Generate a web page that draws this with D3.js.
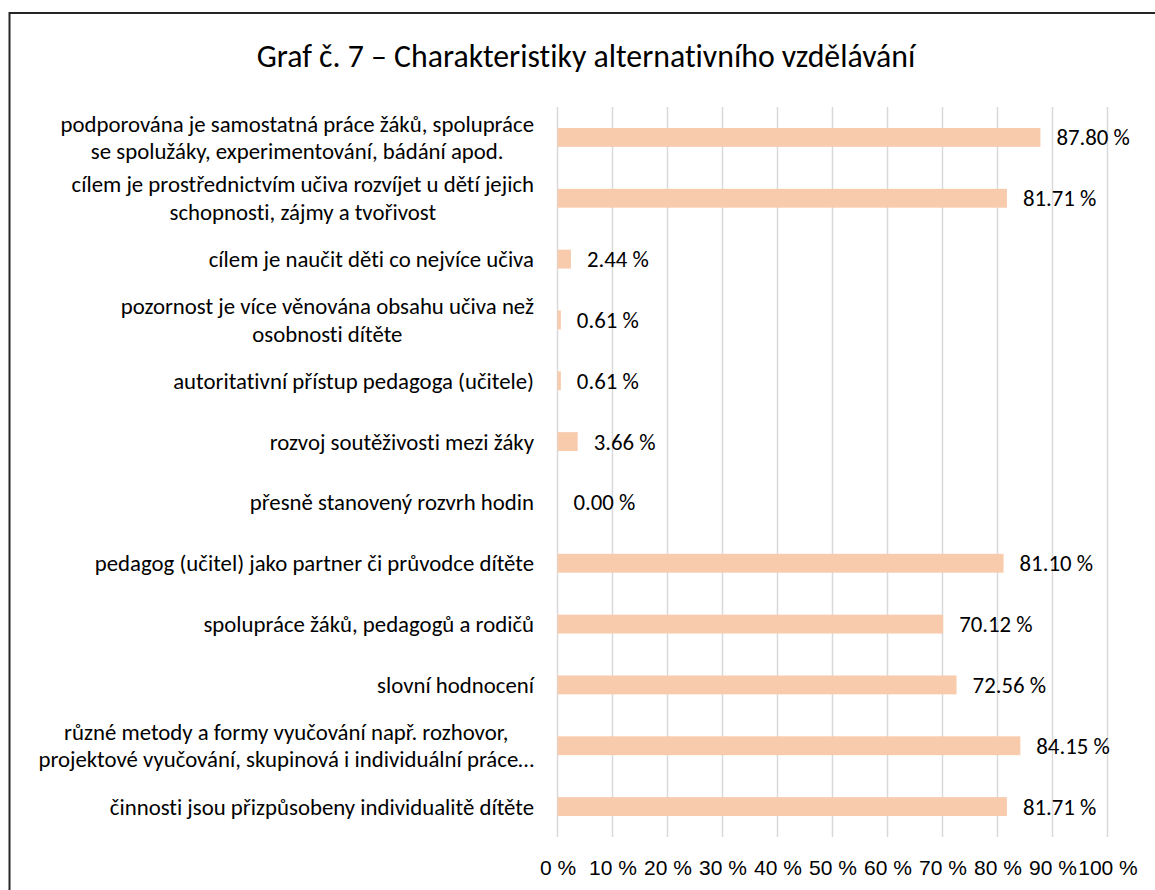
<!DOCTYPE html>
<html>
<head>
<meta charset="utf-8">
<script src="https://cdn.jsdelivr.net/npm/d3@7"></script>
<style>
    body { margin: 0; background: #fff; }
    svg { display: block; font-family: Carlito, Calibri, Lato, sans-serif; font-variant-ligatures: none; }
</style>
</head>
<body>
<div id="chart-container"></div>
<script>
// categories, top to bottom (line breaks as in the original chart)
let categories = [
    ["podporována je samostatná práce žáků, spolupráce", "se spolužáky, experimentování, bádání apod."],
    ["cílem je prostřednictvím učiva rozvíjet u dětí jejich", "schopnosti, zájmy a tvořivost"],
    ["cílem je naučit děti co nejvíce učiva"],
    ["pozornost je více věnována obsahu učiva než", "osobnosti dítěte"],
    ["autoritativní přístup pedagoga (učitele)"],
    ["rozvoj soutěživosti mezi žáky"],
    ["přesně stanovený rozvrh hodin"],
    ["pedagog (učitel) jako partner či průvodce dítěte"],
    ["spolupráce žáků, pedagogů a rodičů"],
    ["slovní hodnocení"],
    ["různé metody a formy vyučování např. rozhovor,", "projektové vyučování, skupinová i individuální práce…"],
    ["činnosti jsou přizpůsobeny individualitě dítěte"]
];

let values = [87.80, 81.71, 2.44, 0.61, 0.61, 3.66, 0.00, 81.10, 70.12, 72.56, 84.15, 81.71];

let xTicks = [0, 10, 20, 30, 40, 50, 60, 70, 80, 90, 100];

let title = "Graf č. 7 – Charakteristiky alternativního vzdělávání";


let width = 1155,
    height = 890;

let fontSize = 22.8,
    tickFontSize = 21,
    lineHeight = 27.5,
    labelRight = 534;

let svg = d3.select("#chart-container")
    .append("svg")
    .attr("width", width)
    .attr("height", height);

svg.append("rect")
    .attr("width", width)
    .attr("height", height)
    .attr("fill", "#fff");

// outer frame (cut off at right and bottom, as in the picture)
svg.append("rect")
    .attr("x", 9.5)
    .attr("y", 13)
    .attr("width", 1300)
    .attr("height", 1000)
    .attr("fill", "none")
    .attr("stroke", "#262626")
    .attr("stroke-width", 2);

svg.append("text")
    .attr("x", 586)
    .attr("y", 67)
    .attr("text-anchor", "middle")
    .attr("font-size", 31.8)
    .attr("fill", "#000")
    .text(title);

let data = categories.map((c, i) => ({id: i, lines: c, value: values[i]}));

let x = d3.scaleLinear()
    .domain([0, 100])
    .range([557.5, 1107.5]);

let y = d3.scaleBand()
    .domain(data.map((d) => d.id))
    .range([107, 837])
    .paddingInner(0.69)
    .paddingOuter(0.345);

// vertical gridlines
svg.append("g")
    .attr("class", "grid")
    .selectAll("line")
    .data(xTicks)
    .enter().append("line")
    .attr("x1", (d) => x(d))
    .attr("x2", (d) => x(d))
    .attr("y1", 107)
    .attr("y2", 837)
    .attr("stroke", "#d9d9d9")
    .attr("stroke-width", 1.5);

// x axis labels
let xAxis = d3.axisBottom(x)
    .tickValues(xTicks)
    .tickSize(0)
    .tickPadding(0)
    .tickFormat((d) => d + " %");

svg.append("g")
    .attr("transform", "translate(0,860)")
    .call(xAxis)
    .call((g) => g.select(".domain").remove())
    .call((g) => g.selectAll("text")
        .attr("font-family", null)
        .attr("font-size", tickFontSize)
        .attr("fill", "#000")
        .attr("dy", "0.71em"));

// bars
svg.append("g")
    .attr("class", "bars")
    .selectAll("rect")
    .data(data)
    .enter().append("rect")
    .attr("x", x(0))
    .attr("y", (d) => y(d.id))
    .attr("width", (d) => x(d.value) - x(0))
    .attr("height", y.bandwidth())
    .attr("fill", "#f8cbad");

// value labels
svg.append("g")
    .attr("class", "values")
    .selectAll("text")
    .data(data)
    .enter().append("text")
    .attr("x", (d) => x(d.value) + 16)
    .attr("y", (d) => y(d.id) + y.bandwidth() / 2)
    .attr("dy", "0.35em")
    .attr("font-size", fontSize)
    .attr("fill", "#000")
    .text((d) => d.value.toFixed(2) + " %");

// category labels: block right aligned, lines centred on each other
let labels = svg.append("g")
    .attr("class", "labels")
    .selectAll("text")
    .data(data)
    .enter().append("text")
    .attr("font-size", fontSize)
    .attr("fill", "#000")
    .attr("text-anchor", "middle");

labels.each(function (d) {
    let t = d3.select(this);
    let cy = y(d.id) + y.bandwidth() / 2;
    let n = d.lines.length;
    d.lines.forEach((line, i) => {
        t.append("tspan")
            .attr("y", cy + (i - (n - 1) / 2) * lineHeight)
            .attr("dy", "0.35em")
            .text(line);
    });
    let maxW = d3.max(t.selectAll("tspan").nodes(), (n) => n.getComputedTextLength());
    t.selectAll("tspan").attr("x", labelRight - maxW / 2);
});
</script>
</body>
</html>
